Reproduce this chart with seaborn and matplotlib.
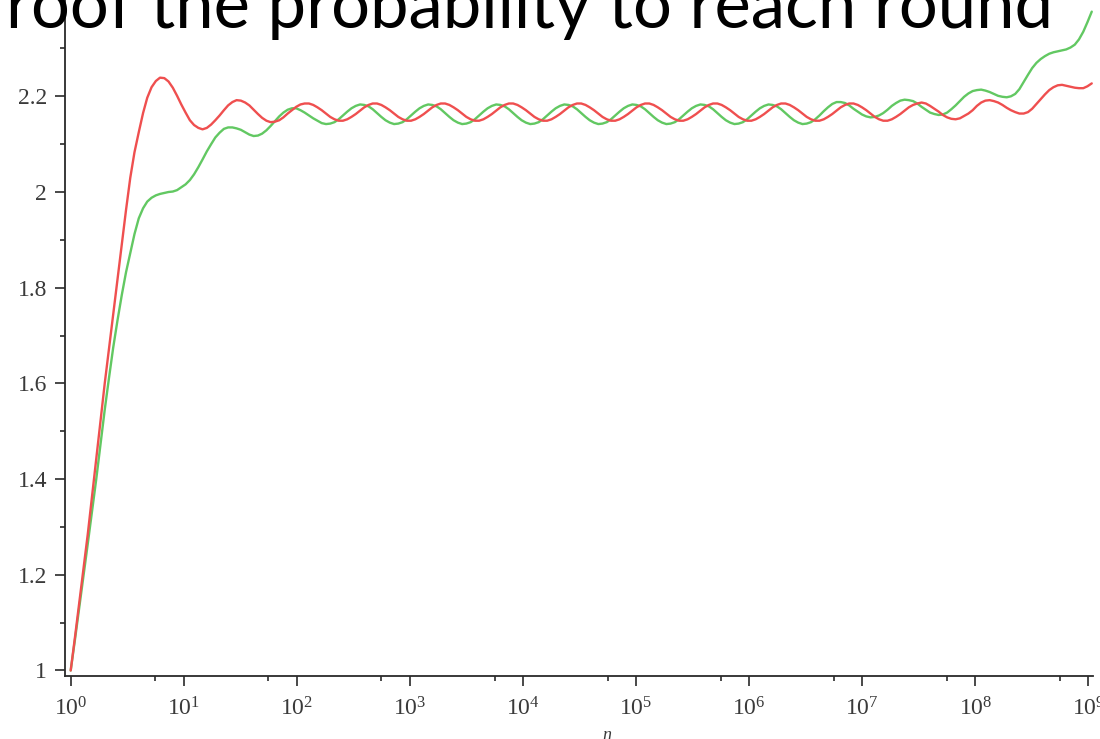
import matplotlib
matplotlib.use("Agg")
import matplotlib.pyplot as plt
import pandas as pd
import seaborn as sns
from matplotlib.ticker import FixedLocator, NullFormatter

# ---------------- data ----------------
title_text = "roof the probability to reach round"
x_label = "n"

# sample positions, as log10(n)
log10_n = [
    0.000, 0.038, 0.075, 0.113, 0.151, 0.188, 0.226, 0.263, 0.301, 0.339, 0.376, 0.414, 0.452, 0.489, 0.527, 0.564,
    0.602, 0.640, 0.677, 0.715, 0.753, 0.790, 0.828, 0.865, 0.903, 0.941, 0.978, 1.016, 1.054, 1.091, 1.129, 1.166,
    1.204, 1.242, 1.279, 1.317, 1.355, 1.392, 1.430, 1.467, 1.505, 1.543, 1.580, 1.618, 1.656, 1.693, 1.731, 1.768,
    1.806, 1.844, 1.881, 1.919, 1.957, 1.994, 2.032, 2.069, 2.107, 2.145, 2.182, 2.220, 2.258, 2.295, 2.333, 2.370,
    2.408, 2.446, 2.483, 2.521, 2.559, 2.596, 2.634, 2.671, 2.709, 2.747, 2.784, 2.822, 2.860, 2.897, 2.935, 2.972,
    3.010, 3.048, 3.085, 3.123, 3.161, 3.198, 3.236, 3.273, 3.311, 3.349, 3.386, 3.424, 3.462, 3.499, 3.537, 3.574,
    3.612, 3.650, 3.687, 3.725, 3.763, 3.800, 3.838, 3.875, 3.913, 3.951, 3.988, 4.026, 4.064, 4.101, 4.139, 4.176,
    4.214, 4.252, 4.289, 4.327, 4.365, 4.402, 4.440, 4.477, 4.515, 4.553, 4.590, 4.628, 4.666, 4.703, 4.741, 4.778,
    4.816, 4.854, 4.891, 4.929, 4.967, 5.004, 5.042, 5.079, 5.117, 5.155, 5.192, 5.230, 5.268, 5.305, 5.343, 5.380,
    5.418, 5.456, 5.493, 5.531, 5.569, 5.606, 5.644, 5.681, 5.719, 5.757, 5.794, 5.832, 5.870, 5.907, 5.945, 5.982,
    6.020, 6.058, 6.095, 6.133, 6.171, 6.208, 6.246, 6.283, 6.321, 6.359, 6.396, 6.434, 6.472, 6.509, 6.547, 6.584,
    6.622, 6.660, 6.697, 6.735, 6.773, 6.810, 6.848, 6.885, 6.923, 6.961, 6.998, 7.036, 7.074, 7.111, 7.149, 7.186,
    7.224, 7.262, 7.299, 7.337, 7.375, 7.412, 7.450, 7.487, 7.525, 7.563, 7.600, 7.638, 7.676, 7.713, 7.751, 7.788,
    7.826, 7.864, 7.901, 7.939, 7.977, 8.014, 8.052, 8.089, 8.127, 8.165, 8.202, 8.240, 8.278, 8.315, 8.353, 8.390,
    8.428, 8.466, 8.503, 8.541, 8.579, 8.616, 8.654, 8.691, 8.729, 8.767, 8.804, 8.842, 8.880, 8.917, 8.955, 8.992,
    9.030,
]

red_values = [
    1.000, 1.070, 1.140, 1.212, 1.285, 1.362, 1.440, 1.520,
    1.600, 1.673, 1.745, 1.818, 1.890, 1.962, 2.030, 2.083,
    2.125, 2.165, 2.197, 2.219, 2.232, 2.239, 2.238, 2.231,
    2.218, 2.201, 2.183, 2.166, 2.150, 2.140, 2.134, 2.131,
    2.134, 2.141, 2.150, 2.160, 2.171, 2.181, 2.188, 2.192,
    2.191, 2.187, 2.181, 2.172, 2.163, 2.155, 2.149, 2.146,
    2.147, 2.150, 2.156, 2.164, 2.171, 2.178, 2.183, 2.185,
    2.185, 2.182, 2.177, 2.171, 2.164, 2.157, 2.152, 2.149,
    2.149, 2.152, 2.157, 2.163, 2.170, 2.177, 2.182, 2.185,
    2.185, 2.182, 2.177, 2.171, 2.164, 2.157, 2.152, 2.149,
    2.149, 2.152, 2.157, 2.163, 2.170, 2.177, 2.182, 2.185,
    2.185, 2.182, 2.177, 2.171, 2.164, 2.157, 2.152, 2.149,
    2.149, 2.152, 2.157, 2.163, 2.170, 2.177, 2.182, 2.185,
    2.185, 2.182, 2.177, 2.171, 2.164, 2.157, 2.152, 2.149,
    2.149, 2.152, 2.157, 2.163, 2.170, 2.177, 2.182, 2.185,
    2.185, 2.182, 2.177, 2.171, 2.164, 2.157, 2.152, 2.149,
    2.149, 2.152, 2.157, 2.163, 2.170, 2.177, 2.182, 2.185,
    2.185, 2.182, 2.177, 2.171, 2.164, 2.157, 2.152, 2.149,
    2.149, 2.152, 2.157, 2.163, 2.170, 2.177, 2.182, 2.185,
    2.185, 2.182, 2.177, 2.171, 2.164, 2.157, 2.152, 2.149,
    2.149, 2.152, 2.157, 2.163, 2.170, 2.177, 2.182, 2.185,
    2.185, 2.182, 2.177, 2.171, 2.164, 2.157, 2.152, 2.149,
    2.149, 2.152, 2.157, 2.163, 2.170, 2.177, 2.182, 2.185,
    2.185, 2.182, 2.177, 2.171, 2.164, 2.157, 2.152, 2.149,
    2.149, 2.152, 2.157, 2.163, 2.170, 2.177, 2.182, 2.185,
    2.187, 2.185, 2.180, 2.174, 2.168, 2.161, 2.156, 2.153,
    2.152, 2.154, 2.159, 2.164, 2.171, 2.180, 2.187, 2.191,
    2.192, 2.190, 2.187, 2.182, 2.176, 2.171, 2.167, 2.164,
    2.164, 2.167, 2.174, 2.184, 2.194, 2.204, 2.213, 2.219,
    2.223, 2.224, 2.222, 2.220, 2.218, 2.217, 2.217, 2.221,
    2.227,
]

green_values = [
    1.000, 1.065, 1.130, 1.197, 1.265, 1.332, 1.400, 1.472,
    1.545, 1.612, 1.675, 1.732, 1.785, 1.832, 1.873, 1.912,
    1.945, 1.966, 1.980, 1.988, 1.993, 1.996, 1.998, 2.000,
    2.001, 2.004, 2.010, 2.016, 2.025, 2.037, 2.052, 2.068,
    2.085, 2.100, 2.114, 2.124, 2.132, 2.135, 2.135, 2.133,
    2.130, 2.125, 2.120, 2.117, 2.118, 2.122, 2.129, 2.138,
    2.148, 2.158, 2.166, 2.172, 2.175, 2.175, 2.171, 2.166,
    2.160, 2.154, 2.149, 2.144, 2.142, 2.143, 2.146, 2.152,
    2.160, 2.168, 2.175, 2.180,
    2.183, 2.182, 2.179, 2.173, 2.165, 2.157, 2.150, 2.145,
    2.142, 2.143, 2.146, 2.152, 2.160, 2.168, 2.175, 2.180,
    2.183, 2.182, 2.179, 2.173, 2.165, 2.157, 2.150, 2.145,
    2.142, 2.143, 2.146, 2.152, 2.160, 2.168, 2.175, 2.180,
    2.183, 2.182, 2.179, 2.173, 2.165, 2.157, 2.150, 2.145,
    2.142, 2.143, 2.146, 2.152, 2.160, 2.168, 2.175, 2.180,
    2.183, 2.182, 2.179, 2.173, 2.165, 2.157, 2.150, 2.145,
    2.142, 2.143, 2.146, 2.152, 2.160, 2.168, 2.175, 2.180,
    2.183, 2.182, 2.179, 2.173, 2.165, 2.157, 2.150, 2.145,
    2.142, 2.143, 2.146, 2.152, 2.160, 2.168, 2.175, 2.180,
    2.183, 2.182, 2.179, 2.173, 2.165, 2.157, 2.150, 2.145,
    2.142, 2.143, 2.146, 2.152, 2.160, 2.168, 2.175, 2.180,
    2.183, 2.182, 2.179, 2.173, 2.165, 2.157, 2.150, 2.145,
    2.142, 2.143, 2.146, 2.152,
    2.160, 2.169, 2.177, 2.184, 2.188, 2.188, 2.186, 2.181,
    2.174, 2.168, 2.162, 2.158, 2.156, 2.157, 2.160, 2.165,
    2.172, 2.180, 2.186, 2.191, 2.193, 2.192, 2.190, 2.185,
    2.178, 2.172, 2.166, 2.163, 2.161, 2.162, 2.166, 2.173,
    2.181, 2.190, 2.199, 2.206, 2.211, 2.213, 2.214, 2.212,
    2.209, 2.205, 2.201, 2.199, 2.198, 2.200, 2.205, 2.215,
    2.230, 2.245, 2.259, 2.270, 2.278, 2.284, 2.289, 2.292,
    2.294, 2.296, 2.298, 2.302, 2.308, 2.319, 2.335, 2.355,
    2.377,
]

series_order = ["green", "red"]
series_colors = {"green": "#62c862", "red": "#ef4f4f"}

y_major = [1.0, 1.2, 1.4, 1.6, 1.8, 2.0, 2.2]
y_major_labels = ["1", "1.2", "1.4", "1.6", "1.8", "2", "2.2"]
y_minor = [1.1, 1.3, 1.5, 1.7, 1.9, 2.1, 2.3]
x_decades = [0, 1, 2, 3, 4, 5, 6, 7, 8, 9]
x_minor_mantissa = 5.6

assert len(log10_n) == len(red_values) == len(green_values), (
    len(log10_n), len(red_values), len(green_values))

# ---------------- figure ----------------
sns.set_theme(style="white")
plt.rcParams["font.family"] = ["Liberation Serif", "DejaVu Serif"]
plt.rcParams["mathtext.fontset"] = "custom"
plt.rcParams["mathtext.rm"] = "Liberation Serif"
plt.rcParams["mathtext.it"] = "Liberation Serif:italic"

W, H = 1100, 739
fig = plt.figure(figsize=(W / 100, H / 100), dpi=100)
fig.patch.set_facecolor("white")

ax_left, ax_right, ax_bottom = 65, 1093, 676   # pixel positions
ax = fig.add_axes([ax_left / W, (H - ax_bottom) / H,
                   (ax_right - ax_left) / W, ax_bottom / H])
ax.set_facecolor("white")

n_values = [10 ** e for e in log10_n]
N = len(n_values)
df = pd.DataFrame({
    "n": n_values + n_values,
    "value": green_values + red_values,
    "series": ["green"] * N + ["red"] * N,
})

sns.lineplot(data=df, x="n", y="value", hue="series", hue_order=series_order,
             palette=series_colors, linewidth=1.7, legend=False,
             estimator=None, sort=False, ax=ax,
             solid_joinstyle="round", solid_capstyle="round")

ax.set_xscale("log")
ax.set_xlim(10 ** -0.0504, 10 ** 9.041)
ax.set_ylim(0.9885, 2.4013)

ax.xaxis.set_major_locator(FixedLocator([10.0 ** k for k in x_decades]))
ax.set_xticklabels([rf"$10^{{{k}}}$" for k in x_decades])
ax.xaxis.set_minor_locator(FixedLocator([x_minor_mantissa * 10.0 ** k for k in x_decades[:-1]]))
ax.xaxis.set_minor_formatter(NullFormatter())

ax.set_yticks(y_major)
ax.set_yticklabels(y_major_labels)
ax.yaxis.set_minor_locator(FixedLocator(y_minor))
ax.yaxis.set_minor_formatter(NullFormatter())

ax.tick_params(axis="both", which="major", direction="out", length=7,
               width=1.2, color="#2a2a2a", labelsize=17, labelcolor="#3a3a3a",
               bottom=True, left=True)
ax.tick_params(axis="both", which="minor", direction="out", length=3.8,
               width=1.2, color="#2a2a2a", bottom=True, left=True)
ax.tick_params(axis="x", which="major", pad=8)
ax.tick_params(axis="y", which="major", pad=6)

for side in ["top", "right"]:
    ax.spines[side].set_visible(False)
for side in ["left", "bottom"]:
    ax.spines[side].set_color("#2a2a2a")
    ax.spines[side].set_linewidth(1.3)

ax.set_xlabel("")
ax.set_ylabel("")
ax.text(0.527, -0.088, rf"${x_label}$", transform=ax.transAxes,
        ha="center", va="center", fontsize=13, color="#3a3a3a")

# title fragment at the top (large sans text, cut off at the top)
t = fig.text(6 / W, 1 - 28 / H, title_text, fontfamily="Lato", fontsize=44,
             va="baseline", ha="left", color="black", zorder=10)
fig.canvas.draw()
width_px = t.get_window_extent().width
t.set_fontsize(44 * 1048 / width_px)

fig.savefig("out.png", dpi=100, facecolor="white")
